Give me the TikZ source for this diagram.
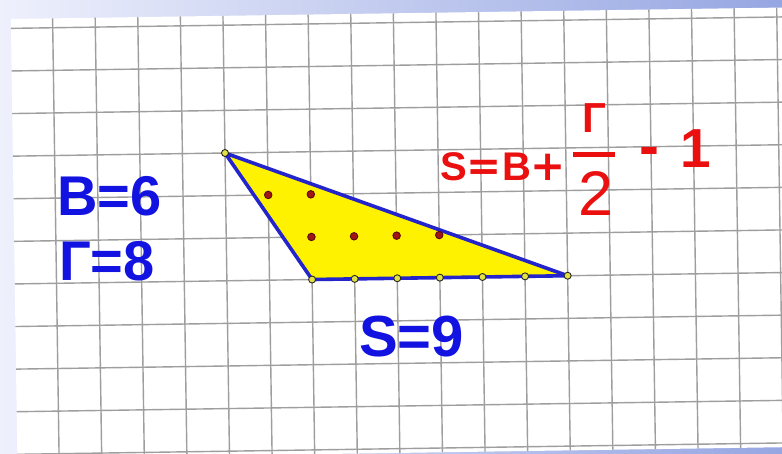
\documentclass[tikz,border=0pt]{standalone}
\usepackage{fontspec}
\setmainfont{Liberation Sans}
\newfontfamily\signfont{DejaVu Sans}
\usetikzlibrary{positioning}

\definecolor{valblue}{RGB}{18,18,225}
\definecolor{formred}{RGB}{235,16,16}
\definecolor{triblue}{RGB}{36,36,205}
\definecolor{ptyellow}{RGB}{225,225,70}
\definecolor{ptred}{RGB}{160,22,22}
\definecolor{bandleft}{RGB}{238,240,252}
\definecolor{bandright}{RGB}{150,166,226}

\begin{document}
\begin{tikzpicture}[
  x=1pt,
  y=-1pt,
  gridline/.style={draw=black!38, line width=1.4pt},
  tri/.style={
    fill=yellow,
    draw=triblue,
    line width=3.6pt,
    line join=round
  },
  edgept/.style={
    circle,
    fill=ptyellow,
    draw=black!85,
    line width=0.9pt,
    inner sep=0pt,
    minimum size=7pt
  },
  innerpt/.style={
    circle,
    fill=ptred,
    draw=ptred!55!black,
    line width=0.9pt,
    inner sep=0pt,
    minimum size=7.5pt
  },
  value/.style={
    text=valblue,
    font=\bfseries\fontsize{56}{60}\selectfont,
    inner sep=0pt,
    anchor=base west
  },
  formula/.style={
    text=formred,
    font=\bfseries\fontsize{46}{50}\selectfont,
    inner sep=0pt,
    anchor=base west
  }
]
  \useasboundingbox (0,0) rectangle (782,453);
  \shade[left color=bandleft, right color=bandright] (0,0) rectangle (782,453);

  % squared paper, slightly turned
  \begin{scope}[shift={(225,153)}, rotate=0.85, x=42.6pt, y=-42.6pt]
    \fill[white] (-4.98,-3.22) rectangle (14.6,7.1);
    \foreach \i in {-4,...,14}
      \draw[gridline] (\i,-3.22) -- (\i,7.1);
    \foreach \j in {-3,...,7}
      \draw[gridline] (-4.98,\j) -- (14.6,\j);

    \coordinate (A) at (0,0);
    \coordinate (B) at (2,3);
    \coordinate (C) at (8,3);
    \filldraw[tri] (A) -- (B) -- (C) -- cycle;

    \node[innerpt] (in1) at (1,1) {};
    \node[innerpt] (in2) at (2,1) {};
    \node[innerpt] (in3) at (2,2) {};
    \node[innerpt] (in4) at (3,2) {};
    \node[innerpt] (in5) at (4,2) {};
    \node[innerpt] (in6) at (5,2) {};

    \node[edgept] (ptA) at (A) {};
    \node[edgept] (ptB) at (B) {};
    \node[edgept] (ptC) at (C) {};
    \node[edgept] (bd1) at (3,3) {};
    \node[edgept] (bd2) at (4,3) {};
    \node[edgept] (bd3) at (5,3) {};
    \node[edgept] (bd4) at (6,3) {};
    \node[edgept] (bd5) at (7,3) {};
  \end{scope}

  % counts and area
  \node[value] (inner) at (57,215) {В=6};
  \node[value] (border) at (59,280) {Г=8};
  \node[value, font=\bfseries\fontsize{58}{62}\selectfont] (area) at (359,356) {S=9};

  % Pick's formula
  \node[formula, font=\bfseries\fontsize{40}{44}\selectfont] (lhs) at (440,180)
    {S{\signfont\fontsize{42}{46}\selectfont=}В{\signfont\fontsize{42}{46}\selectfont+}};
  \node[formula, font=\bfseries\fontsize{42}{46}\selectfont] (num) at (582,132) {Г};
  \draw[formred, line width=5pt] (573,154) -- (615,154);
  \node[formula, font=\fontsize{63}{67}\selectfont] (den) at (578,215) {2};
  \node[formula, font=\bfseries\fontsize{60}{64}\selectfont] (minus) at (639,166) {-};
  \node[formula, font=\bfseries\fontsize{55}{59}\selectfont] (one) at (680,167) {1};
\end{tikzpicture}
\end{document}
